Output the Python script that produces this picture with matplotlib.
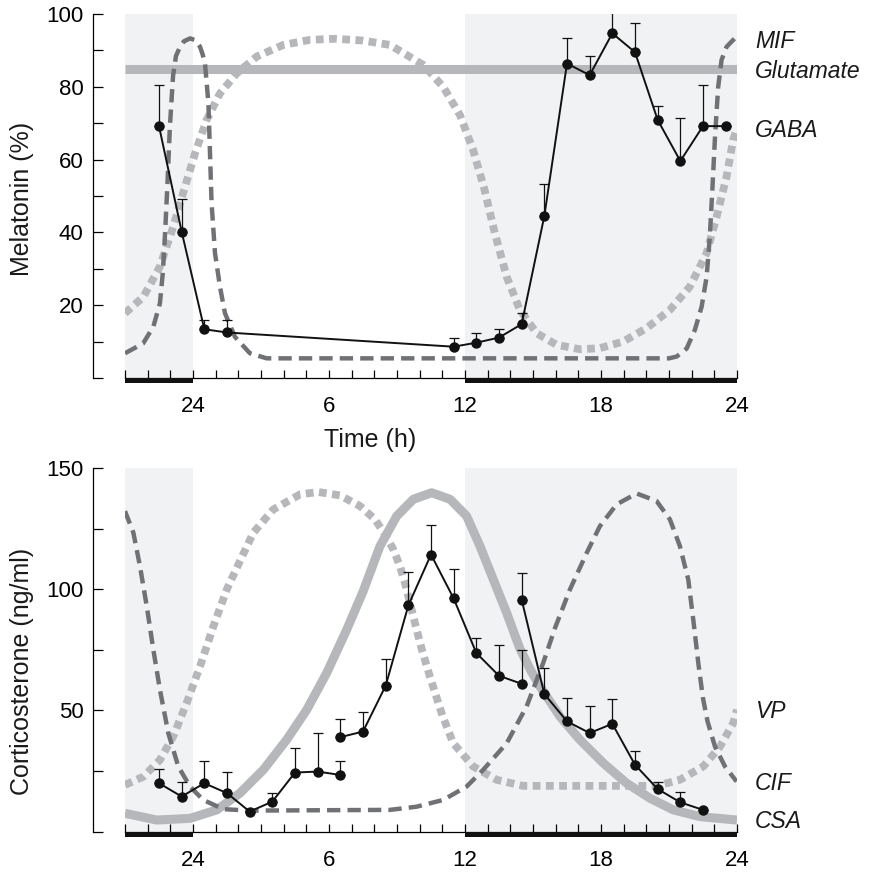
import matplotlib
matplotlib.use("Agg")
import matplotlib.pyplot as plt
from matplotlib.patches import Rectangle

plt.rcParams['font.family'] = ['Liberation Sans', 'DejaVu Sans']

# ---------------- data ----------------
# time axis: hours relative to midnight ("24"), -3 .. 24
dark_periods = [(-3, 0), (12, 24)]
xtick_pos = [0, 6, 12, 18, 24]
xtick_labels = ["24", "6", "12", "18", "24"]

# Melatonin (top)
mel_t = [-1.5, -0.5, 0.5, 1.5, 11.5, 12.5, 13.5, 14.5, 15.5, 16.5, 17.5, 18.5, 19.5, 20.5, 21.5, 22.5, 23.5]
mel_v = [69.2, 40.2, 13.4, 12.5, 8.6, 9.7, 11.1, 14.8, 44.5, 86.4, 83.2, 94.7, 89.5, 70.9, 59.6, 69.2, 69.2]
mel_err = [11.3, 9.0, 2.5, 3.4, 2.3, 2.7, 2.4, 3.0, 8.7, 6.9, 5.3, 7.3, 8.1, 3.9, 11.9, 11.3, 0.0]

glu_t = [-3, 24]
glu_v = [85, 85]

gaba_t = [-3, -2.19, -1.46, -0.87, -0.35, 0.09, 0.6, 1.19, 1.93, 2.81, 3.98, 5.16, 6.3, 7.5, 8.69,
          10.16, 11.04, 11.78, 12.36, 12.85, 13.32, 13.84, 14.42, 15.16, 16.04, 17.07, 17.95, 18.98,
          20.01, 21.04, 21.92, 22.66, 23.1, 23.54, 23.83, 24]
gaba_v = [17.8, 22.3, 30.6, 41.6, 52.6, 61.7, 70.9, 78.2, 83.7, 88.3, 91.5, 92.9, 93.2, 92.7, 91.5,
          86.0, 80.0, 72.2, 62.6, 52.0, 39.7, 27.8, 18.7, 12.3, 9.1, 7.9, 8.2, 10.0,
          13.7, 18.7, 25.1, 34.3, 44.3, 55.3, 65.4, 68.6]

mif_t = [-3, -2.2, -1.75, -1.46, -1.33, -1.23, -1.13, -1.02, -0.88, -0.75, -0.57, -0.4, -0.13, 0.1,
         0.31, 0.42, 0.53, 0.68, 0.75, 0.82, 0.97, 1.19, 1.41, 1.85, 2.51, 3.25, 21.0, 21.34, 21.78,
         22.14, 22.44, 22.66, 22.8, 22.92, 23.03, 23.17, 23.32, 23.54, 23.9]
mif_v = [6.8, 9.5, 14.1, 20.5, 29.0, 40.0, 53.0, 69.0, 83.0, 88.5, 91.0, 92.5, 93.3, 92.8,
         91.0, 89.0, 86.4, 75.5, 61.7, 48.0, 34.3, 25.1, 17.8, 11.3, 6.8, 5.4, 5.4, 5.9, 8.1,
         13.2, 19.6, 27.8, 38.8, 52.6, 66.3, 80.0, 87.4, 91.0, 93.3]

# Corticosterone (bottom), three separate series
cort1_t = [-1.5, -0.5, 0.5, 1.5, 2.5, 3.5, 4.5, 5.5, 6.5]
cort1_v = [20.0, 14.5, 20.0, 15.9, 8.3, 12.4, 24.4, 24.8, 23.4]
cort1_err = [5.9, 6.2, 9.2, 8.9, 0.0, 3.7, 10.0, 15.8, 5.8]
cort2_t = [6.5, 7.5, 8.5, 9.5, 10.5, 11.5, 12.5, 13.5, 14.5]
cort2_v = [39.0, 41.3, 60.2, 93.3, 114.3, 96.2, 73.7, 64.3, 61.0]
cort2_err = [7.4, 8.0, 11.0, 13.7, 12.0, 12.3, 6.2, 12.9, 14.1]
cort3_t = [14.5, 15.5, 16.5, 17.5, 18.5, 19.5, 20.5, 21.5, 22.5]
cort3_v = [95.7, 56.8, 45.5, 40.7, 44.5, 27.6, 17.6, 12.1, 9.0]
cort3_err = [10.8, 10.7, 9.6, 11.0, 10.2, 5.5, 2.8, 4.2, 0.0]

csa_t = [-3, -1.6, -0.13, 1.05, 2.07, 3.1, 4.13, 5.02, 5.9, 6.78, 7.5, 8.25, 8.99, 9.72, 10.53,
         11.34, 12.07, 12.66, 13.25, 13.84, 14.42, 14.9, 15.31, 16.19, 17.07, 18.1, 19.13, 20.16,
         21.19, 22.37, 24]
csa_v = [7.6, 4.8, 5.5, 9.0, 15.9, 25.5, 37.9, 50.3, 65.5, 83.3, 99.0, 117.8, 130.2, 137.1, 139.8,
         137.1, 130.2, 117.8, 104.0, 90.2, 75.5, 66.5, 59.9, 47.5, 37.9, 28.3, 20.0, 13.8,
         9.0, 6.2, 4.8]

vp_t = [-3, -2.19, -1.46, -0.87, -0.28, 0.31, 0.9, 1.49, 2.07, 2.66, 3.54, 4.72, 5.53, 6.48, 7.37,
        8.03, 8.47, 8.84, 9.13, 9.35, 9.57, 9.79, 10.1, 10.45, 11.0, 11.48, 12.36, 13.4, 14.57,
        20.45, 21.48, 22.51, 23.25, 23.83, 24]
vp_v = [19.3, 22.7, 29.6, 39.3, 53.1, 68.2, 84.7, 99.9, 111.6, 123.3, 132.9, 139.1, 140.1, 138.7, 134.3,
        128.8, 122.6, 116.4, 109.5, 102.6, 94.4, 86.1, 75.0, 64.0, 48.0, 36.5, 26.9, 21.4, 18.9,
        18.9, 21.4, 26.9, 35.1, 44.8, 50.3]

cif_t = [-3, -2.63, -2.34, -2.04, -1.75, -1.46, -1.09, -0.65, -0.13, 0.45, 1.34, 2.5, 8.69, 9.86,
         11.04, 12.07, 12.8, 13.84, 14.72, 15.45, 15.97, 16.63, 17.37, 17.95, 18.69, 19.57, 20.45,
         21.04, 21.48, 21.85, 22.07, 22.3, 22.5, 22.7, 23.03, 23.47, 23.98]
cif_v = [132.2, 123.3, 109.5, 93.0, 75.1, 58.6, 40.7, 26.9, 18.6, 13.1, 9.3, 8.7, 9.0, 10.3,
         13.1, 18.6, 25.5, 36.5, 51.7, 69.6, 84.0, 99.9, 115.0, 126.0, 135.0, 139.5, 136.4,
         128.8, 117.8, 104.0, 87.5, 69.0, 55.0, 45.5, 35.1, 26.9, 20.7]

top_labels = [("MIF", 90.7), ("Glutamate", 82.4), ("GABA", 66.2)]
bot_labels = [("VP", 46.9), ("CIF", 17.2), ("CSA", 1.4)]

# ---------------- style ----------------
LIGHT = "#b6b7ba"
DARK = "#707175"
SHADE = "#f1f2f4"
W, H = 871, 872

fig = plt.figure(figsize=(W / 100, H / 100), dpi=100)
ax1 = fig.add_axes([125 / W, (H - 378) / H, 612 / W, 364 / H])
ax2 = fig.add_axes([125 / W, (H - 831.7) / H, 612 / W, 363.7 / H])

TICK_FS = 16
LAB_FS = 18
ANN_FS = 16.5


def style_axis(ax, ymax, yticks, ylabels):
    ax.set_xlim(-3, 24)
    ax.set_ylim(0, ymax)
    for s in ("top", "right"):
        ax.spines[s].set_visible(False)
    ax.spines["left"].set_position(("outward", 23))
    ax.spines["left"].set_linewidth(0.9)
    ax.spines["bottom"].set_linewidth(0.9)
    for a, b in dark_periods:
        ax.axvspan(a, b, color=SHADE, zorder=0, lw=0)
        ax.add_patch(Rectangle((a, -0.014), b - a, 0.014, transform=ax.get_xaxis_transform(),
                               color="#111111", clip_on=False, zorder=5, lw=0))
    ax.set_xticks(xtick_pos)
    ax.set_xticklabels(xtick_labels)
    ax.set_xticks(range(-3, 25), minor=True)
    ax.tick_params(axis="x", which="both", direction="in", length=6, width=0.9, pad=13,
                   labelsize=TICK_FS)
    ax.set_yticks(yticks)
    ax.set_yticklabels(ylabels)
    ax.tick_params(axis="y", direction="in", length=7, width=0.9, pad=7, labelsize=TICK_FS)


style_axis(ax1, 100, list(range(0, 101, 10)),
           ["", "", "20", "", "40", "", "60", "", "80", "", "100"])
style_axis(ax2, 150, list(range(0, 151, 25)),
           ["", "", "50", "", "100", "", "150"])

dot_style = dict(linestyle=(0, (1.0, 0.7)), linewidth=5.6, color=LIGHT, dash_capstyle="butt",
                 solid_joinstyle="miter")
dash_style = dict(linestyle=(0, (3.0, 1.6)), linewidth=3.2, color=DARK)

# top curves
ax1.plot(glu_t, glu_v, color=LIGHT, lw=6.5, solid_capstyle="butt", zorder=2)
ax1.plot(gaba_t, gaba_v, zorder=3, **dot_style)
ax1.plot(mif_t, mif_v, zorder=4, **dash_style)

# bottom curves
ax2.plot(csa_t, csa_v, color=LIGHT, lw=6.5, solid_capstyle="butt", solid_joinstyle="round", zorder=2)
ax2.plot(vp_t, vp_v, zorder=3, **dot_style)
ax2.plot(cif_t, cif_v, zorder=4, **dash_style)

err_kw = dict(fmt="-o", color="#111111", lw=1.4, ms=6.5, elinewidth=0.9, capsize=3.5,
              capthick=0.9, zorder=6)


def series(ax, t, v, e):
    ax.errorbar(t, v, yerr=[[0] * len(e), e], **err_kw)


series(ax1, mel_t, mel_v, mel_err)
series(ax2, cort1_t, cort1_v, cort1_err)
series(ax2, cort2_t, cort2_v, cort2_err)
series(ax2, cort3_t, cort3_v, cort3_err)

for name, yv in top_labels:
    ax1.text(24.79, yv, name, fontsize=ANN_FS, style="italic", va="baseline", ha="left",
             color="#1a1a1a", clip_on=False)
for name, yv in bot_labels:
    ax2.text(24.79, yv, name, fontsize=ANN_FS, style="italic", va="baseline", ha="left",
             color="#1a1a1a", clip_on=False)

fig.text(22 / W, 1 - 199 / H, "Melatonin (%)", rotation=90, ha="center", va="center",
         fontsize=LAB_FS, color="#1a1a1a")
fig.text(22 / W, 1 - 671 / H, "Corticosterone (ng/ml)", rotation=90, ha="center", va="center",
         fontsize=LAB_FS, color="#1a1a1a")
fig.text(370 / W, 1 - 440 / H, "Time (h)", ha="center", va="center", fontsize=LAB_FS,
         color="#1a1a1a")

fig.savefig("out.png", dpi=100)
